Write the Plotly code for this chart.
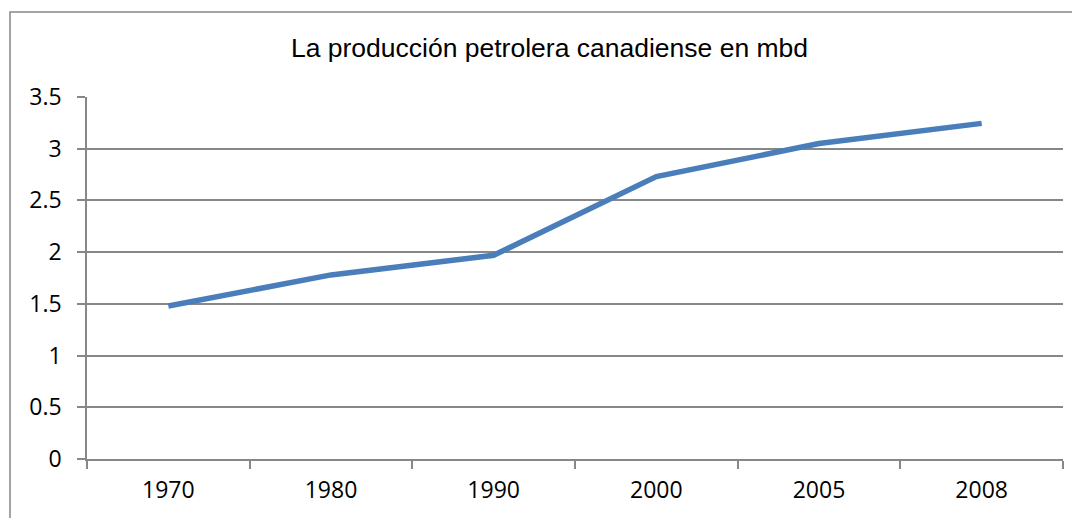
import plotly.graph_objects as go

# Data
years = ["1970", "1980", "1990", "2000", "2005", "2008"]
production_mbd = [1.48, 1.78, 1.97, 2.73, 3.05, 3.245]
y_ticks = [0, 0.5, 1, 1.5, 2, 2.5, 3, 3.5]
y_tick_labels = ["0", "0.5", "1", "1.5", "2", "2.5", "3", "3.5"]
title_text = "La producción petrolera canadiense en mbd"

GRID = "#878787"
LINE = "#4a7ebb"

W, H = 1080, 518
OFF = 8  # page body margin
L, R, T, B = 87 - OFF, 25, 97 - OFF, 67

fig = go.Figure()
fig.add_trace(go.Scatter(
    x=years,
    y=production_mbd,
    mode="lines",
    line=dict(color=LINE, width=5.5),
    hovertemplate="<b>%{x}</b>: %{y}<extra></extra>",
))

pw = W - L - R
ph = H - T - B

fig.update_layout(
    width=W,
    height=H,
    margin=dict(l=L, r=R, t=T, b=B),
    paper_bgcolor="white",
    plot_bgcolor="white",
    showlegend=False,
    title=dict(
        text=title_text,
        x=((291 + 808) / 2 - OFF) / W,
        xanchor="center",
        y=1 - (48 - OFF) / H,
        yanchor="middle",
        font=dict(family="Liberation Sans", size=26.5, color="black"),
    ),
    xaxis=dict(
        type="category",
        range=[-0.5, len(years) - 0.5],
        showgrid=False,
        showline=True,
        linecolor=GRID,
        linewidth=1.5,
        ticks="outside",
        tickson="boundaries",
        ticklen=8,
        tickcolor=GRID,
        tickwidth=1.5,
        ticklabelstandoff=10,
        tickfont=dict(family="Open Sans, Lato", size=23, color="black"),
        zeroline=False,
    ),
    yaxis=dict(
        range=[0, 3.5],
        tickvals=y_ticks,
        ticktext=y_tick_labels,
        showgrid=True,
        gridcolor=GRID,
        gridwidth=1.5,
        showline=True,
        linecolor=GRID,
        linewidth=1.5,
        ticks="outside",
        ticklen=8,
        tickcolor=GRID,
        tickwidth=1.5,
        ticklabelstandoff=11,
        tickfont=dict(family="Open Sans, Lato", size=23, color="black"),
        zeroline=False,
    ),
)

# outer chart border
fig.add_shape(
    type="rect",
    xref="paper", yref="paper",
    x0=(10 - OFF - L) / pw, x1=(W + 20 - L) / pw,
    y0=-(B + 20) / ph, y1=1 + (T - (12 - OFF)) / ph,
    line=dict(color=GRID, width=1.5),
    fillcolor="rgba(0,0,0,0)",
    layer="below",
)

fig.write_html("out.html")
